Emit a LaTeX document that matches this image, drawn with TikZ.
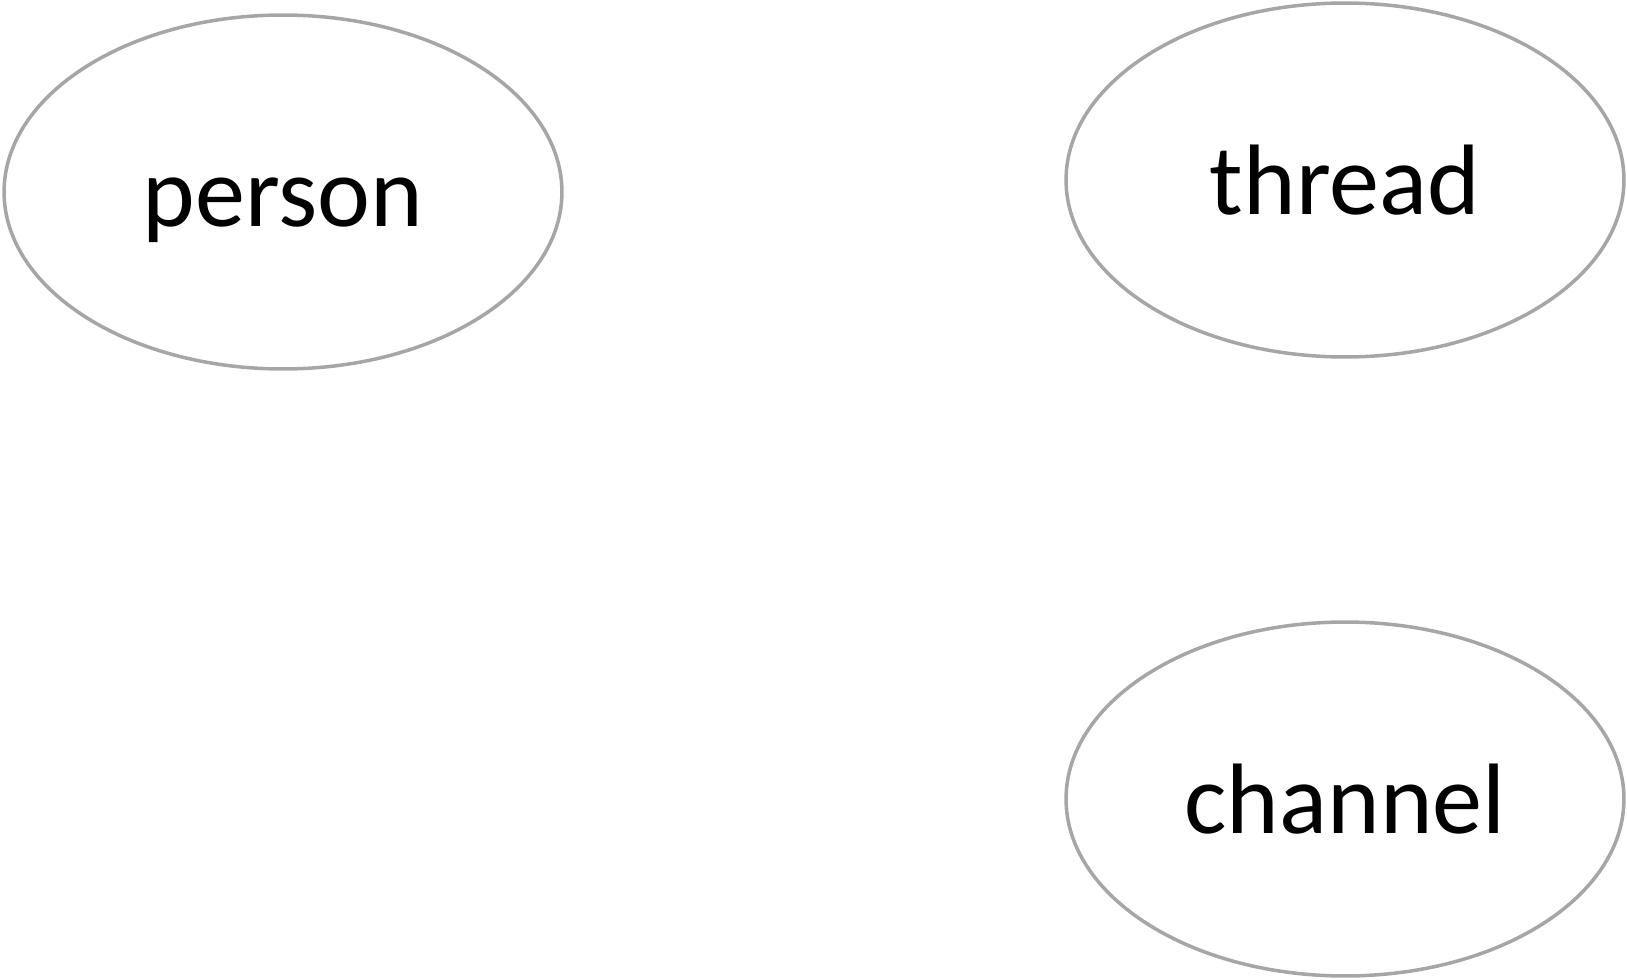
\documentclass[tikz,border=0pt]{standalone}
\usepackage{fontspec}
\setmainfont{Carlito}
\usetikzlibrary{shapes.geometric}

\begin{document}
\begin{tikzpicture}[x=0.02cm,y=-0.02cm,
  topic/.style={ellipse,draw=black!35,line width=2pt,minimum width=11.16cm,minimum height=7.08cm,
    inner sep=0pt,font=\fontsize{57}{62}\selectfont,text height=51pt,text depth=12pt}]
  \useasboundingbox (0,0) rectangle (1627,980);
  \foreach \x/\y/\name in {283/192/person,1345/180/thread,1345/799/channel}{
    \node[topic] (\name) at (\x,\y) {\name};
  }
\end{tikzpicture}
\end{document}
